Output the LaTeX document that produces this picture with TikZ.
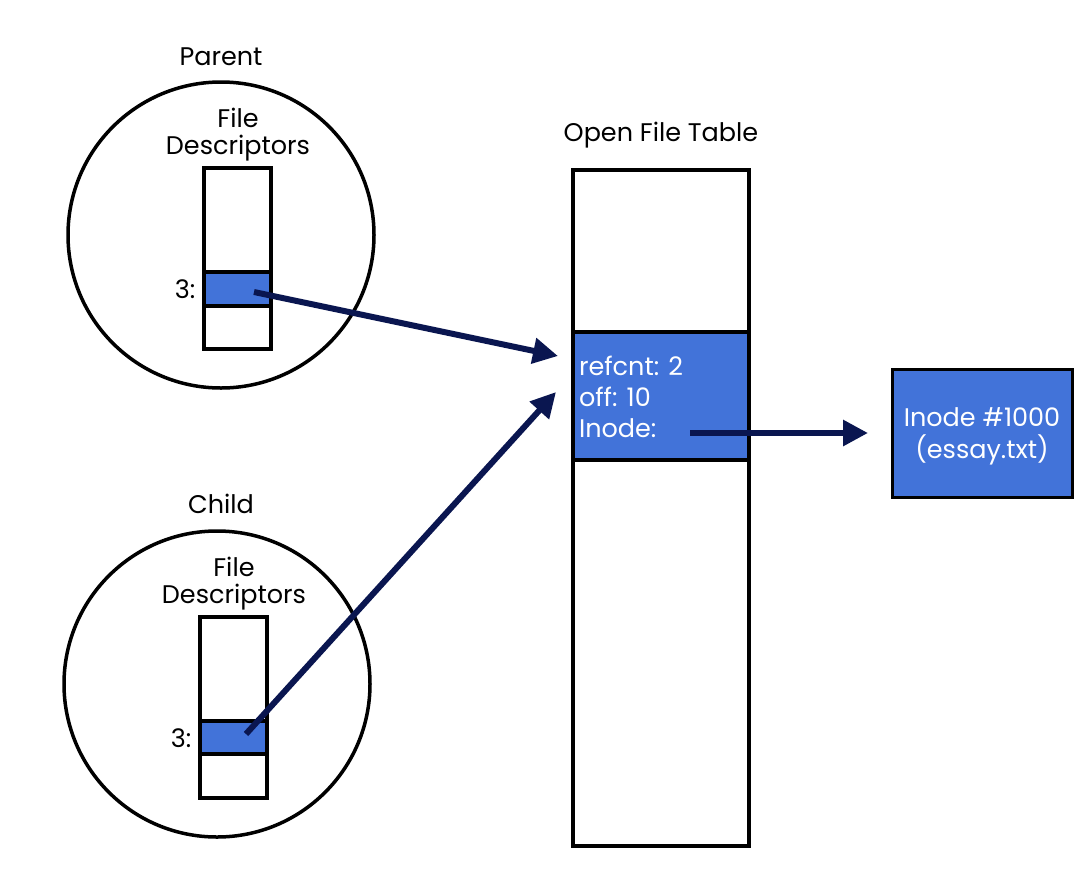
\documentclass[tikz,border=0pt]{standalone}
\usepackage{fontspec}
\setmainfont{Poppins}
\usetikzlibrary{arrows.meta}
\definecolor{cellblue}{RGB}{66,115,217}
\definecolor{navy}{RGB}{10,22,80}
\begin{document}
\begin{tikzpicture}[x=1pt,y=-1pt,
  every node/.style={font=\fontsize{25.5}{27}\selectfont, inner sep=0pt, outer sep=0pt},
  proc/.style={draw, line width=3.5pt, circle, minimum size=306pt},
  cell/.style={draw, line width=4pt, minimum width=67pt},
  bluecell/.style={cell, fill=cellblue},
  ptr/.style={navy, line width=6pt, -{Triangle[length=25pt,width=25pt]}},
  lbl/.style={align=center}
]
\useasboundingbox (0,0) rectangle (1092,876);

% Parent
\node[proc] (pc) at (221,235) {};
\node[lbl] (ptitle) at (221,57) {Parent};
\node[lbl] (pfdl) at (238,135) {File\\Descriptors};
\node[cell, minimum height=104pt] (pfdtop) at (237.5,220) {};
\node[bluecell, minimum height=34pt] (pfd3) at (237.5,289) {};
\node[cell, minimum height=43pt] (pfdbot) at (237.5,327.5) {};
\node (p3) at (185,289) {3:};

% Child
\node[proc] (cc) at (217,684) {};
\node[lbl] (ctitle) at (221,504) {Child};
\node[lbl] (cfdl) at (234,584) {File\\Descriptors};
\node[cell, minimum height=104pt] (cfdtop) at (233.5,669) {};
\node[bluecell, minimum height=33pt] (cfd3) at (233.5,737.5) {};
\node[cell, minimum height=44pt] (cfdbot) at (233.5,776) {};
\node (c3) at (181,738) {3:};

% Open file table
\node (oftl) at (661,135) {Open File Table};
\node[draw, line width=4pt, minimum width=176pt, minimum height=162pt] (ofttop) at (661,251) {};
\node[draw, line width=4pt, fill=cellblue, minimum width=176pt, minimum height=128pt] (oftent) at (661,396) {};
\node[draw, line width=4pt, minimum width=176pt, minimum height=386pt] (oftbot) at (661,653) {};
\node[anchor=west, align=left, text=white] (oftxt) at (579,397) {refcnt: 2\\[4pt]off: 10\\[4pt]Inode:};

% Inode
\node[draw, line width=3pt, fill=cellblue, minimum width=180pt, minimum height=128pt, text=white, align=center] (inode) at (982,433) {};
\node[text=white, align=center] (inodetxt) at (982,436) {Inode \#1000\\[5pt](essay.txt)};

% pointers
\coordinate (p3s) at (254,292);
\coordinate (p3e) at (558,356);
\coordinate (c3s) at (246,734);
\coordinate (c3e) at (556,392);
\coordinate (ins) at (690,433);
\coordinate (ine) at (868,433);
\draw[ptr] (p3s) -- (p3e);
\draw[ptr] (c3s) -- (c3e);
\draw[ptr] (ins) -- (ine);
\end{tikzpicture}
\end{document}
